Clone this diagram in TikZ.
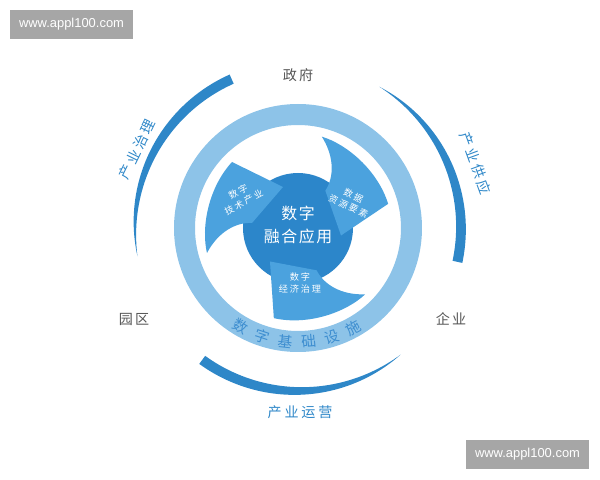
\documentclass[tikz,border=0pt]{standalone}
\usepackage{fontspec}
\setmainfont{Noto Sans CJK SC}
\setsansfont{Liberation Sans}

\definecolor{ringblue}{HTML}{8DC3E8}
\definecolor{coreblue}{HTML}{2C86CA}
\definecolor{swirlblue}{HTML}{4BA2DE}
\definecolor{arcblue}{HTML}{2E87C8}
\definecolor{ringtext}{HTML}{3E8ED0}
\definecolor{labelgray}{HTML}{555555}
\definecolor{markgray}{HTML}{A6A6A6}

\tikzset{
  outerarc/.style={fill=arcblue},
  swirl/.style={fill=swirlblue},
  coretext/.style={text=white, align=center, inner sep=0,
    font=\fontsize{11.3}{17}\selectfont\addfontfeatures{LetterSpace=10}},
  swirltext/.style={text=white, align=center, inner sep=0,
    font=\fontsize{6.5}{8.5}\selectfont\addfontfeatures{LetterSpace=20}},
  placename/.style={text=labelgray, inner sep=0,
    font=\fontsize{10}{12}\selectfont\addfontfeatures{LetterSpace=15}},
  arcname/.style={text=arcblue, inner sep=0,
    font=\fontsize{10}{12}\selectfont\addfontfeatures{LetterSpace=20}},
  ringchar/.style={text=ringtext, inner sep=0, font=\fontsize{10.5}{12}\selectfont},
  watermark/.style={fill=markgray, text=white, inner sep=0,
    minimum width=3.075cm, minimum height=0.725cm, font=\sffamily\fontsize{9.2}{10}\selectfont}
}

\begin{document}
\begin{tikzpicture}[x=0.025cm, y=0.025cm]
\useasboundingbox (-298,-252) rectangle (302,228);

% light ring and core
\fill[ringblue, even odd rule] (0,0) circle (124) (0,0) circle (103);
\fill[coreblue] (0,0) circle (55);

% three swirl arrows
\foreach \turn in {0,-120,-240}{
  \begin{scope}[rotate=\turn]
    \fill[swirl] (-91,-25) .. controls (-97,0) and (-90,40) .. (-66,66)
      -- (-15,41) -- (-46,5) .. controls (-62,6) and (-80,-4) .. (-91,-25) -- cycle;
  \end{scope}
}

% outer tapered arcs: blunt end / pointed end
\foreach \ta/\tb in {114/190, -12/60, -126/-51}{
  \fill[outerarc] plot[domain=0:1, samples=50]
      ({(163+5*(1-\x*\x))*cos(\ta+(\tb-\ta)*\x)}, {(163+5*(1-\x*\x))*sin(\ta+(\tb-\ta)*\x)})
    -- plot[domain=1:0, samples=50]
      ({(163-5*(1-\x*\x))*cos(\ta+(\tb-\ta)*\x)}, {(163-5*(1-\x*\x))*sin(\ta+(\tb-\ta)*\x)})
    -- cycle;
}

% texts
\node[coretext] (core) at (0,3) {数字\\融合应用};
\node[swirltext, rotate=28] (tech) at (-57,31) {数字\\技术产业};
\node[swirltext, rotate=-25] (data) at (53,27) {数据\\资源要素};
\node[swirltext] (econ) at (2,-55) {数字\\经济治理};

\foreach \ch [count=\i] in {数,字,基,础,设,施}
  \node[ringchar, rotate={-120+(\i-1)*11.8+90}] (ring\i) at ({-120+(\i-1)*11.8}:114) {\ch};

\node[placename] (gov) at (0,153) {政府};
\node[placename] (park) at (-164,-91) {园区};
\node[placename] (firm) at (153,-91) {企业};

\node[arcname, rotate=64] (govern) at (154:179) {产业治理};
\node[arcname, rotate=-70] (supply) at (20:189) {产业供应};
\node[arcname] (operate) at (2,-184) {产业运营};

% watermarks
\node[watermark] (markA) at (-226.5,203.5) {www.appl100.com};
\node[watermark] (markB) at (229.5,-226.5) {www.appl100.com};
\end{tikzpicture}
\end{document}
